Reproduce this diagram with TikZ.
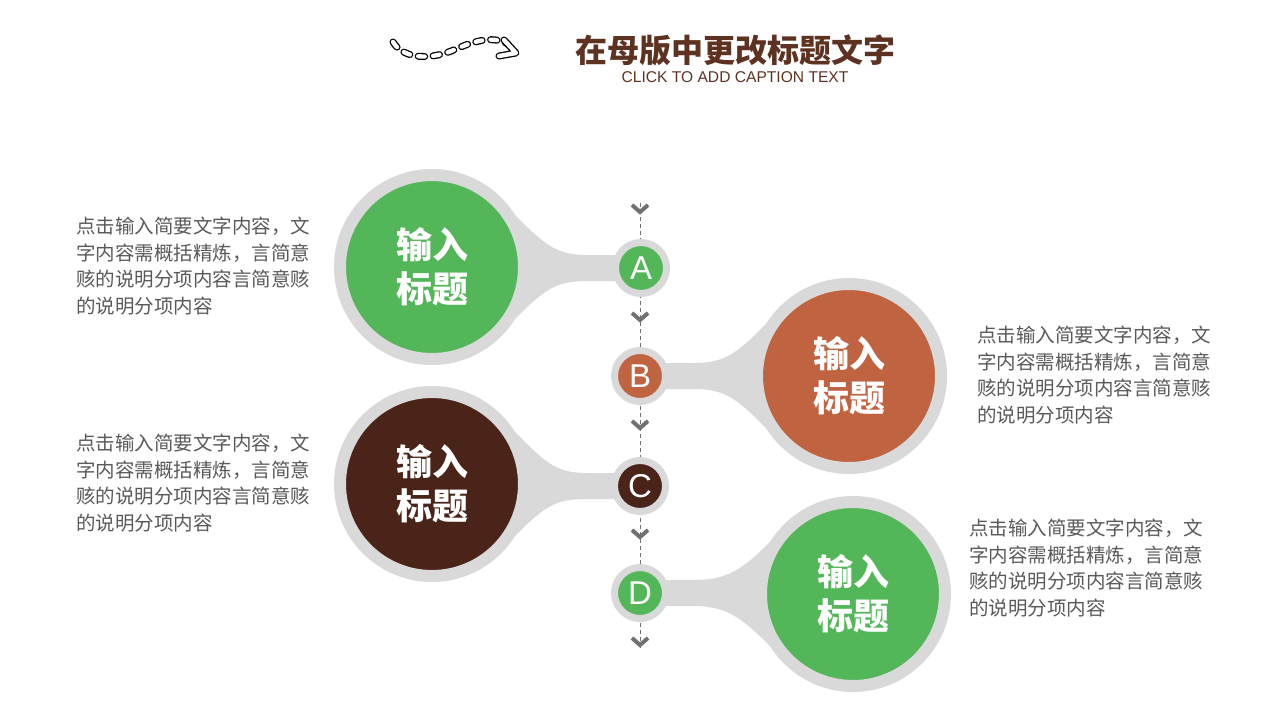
\documentclass[tikz,border=0pt]{standalone}
\usepackage{fontspec}
\setmainfont{Liberation Sans}
\newfontfamily\cjk{Noto Sans CJK SC}
\usetikzlibrary{backgrounds,calc}

\definecolor{ringgray}{HTML}{D9D9D9}
\definecolor{leafgreen}{HTML}{53B658}
\definecolor{rustorange}{HTML}{C06340}
\definecolor{darkbrown}{HTML}{4A2418}
\definecolor{titlebrown}{HTML}{5E3221}
\definecolor{notegray}{HTML}{595959}
\definecolor{arrowgray}{HTML}{707070}

\tikzset{
  bigdot/.style={circle, draw=ringgray, line width=12pt, minimum size=184pt, inner sep=0pt,
    text=white, align=center, font=\cjk\bfseries\fontsize{36}{44}\selectfont},
  smalldot/.style={circle, draw=ringgray, line width=7pt, minimum size=51pt, inner sep=0pt,
    text=white, font=\fontsize{33}{33}\selectfont},
  note/.style={anchor=west, align=left, inner sep=0pt, text=notegray, font=\cjk\fontsize{19.5}{26.5}\selectfont},
  neck/.style={fill=ringgray},
  chevron/.style={draw=arrowgray, line width=4pt},
  pill/.style={draw=black, double=white, double distance=4.4pt, line width=1.3pt}
}

\begin{document}
\begin{tikzpicture}[x=1pt, y=-1pt]
  \useasboundingbox (0,0) rectangle (1280,720);

  % title
  \node[font=\cjk\bfseries\fontsize{32}{32}\selectfont, text=titlebrown] (title) at (735,50) {在母版中更改标题文字};
  \node[font=\fontsize{15.6}{15.6}\selectfont, text=titlebrown] (caption) at (735,77) {CLICK TO ADD CAPTION TEXT};
  \draw[pill, dash pattern=on 6.5pt off 8.5pt, line cap=round]
    (393,42) .. controls (404,60) and (432,60) .. (456,49) .. controls (476,40) and (494,36) .. (508,44);
  \draw[pill, line cap=round, line join=round] (504,40) -- (516,53) -- (499,56);

  % big circles
  \node[bigdot, fill=leafgreen] (big1) at (432,267) {输入\\标题};
  \node[bigdot, fill=rustorange] (big2) at (849,376) {输入\\标题};
  \node[bigdot, fill=darkbrown] (big3) at (432,484) {输入\\标题};
  \node[bigdot, fill=leafgreen] (big4) at (853,594) {输入\\标题};

  % small circles
  \node[smalldot, fill=leafgreen] (dotA) at (641,268) {A};
  \node[smalldot, fill=rustorange] (dotB) at (640,376) {B};
  \node[smalldot, fill=darkbrown] (dotC) at (640,486) {C};
  \node[smalldot, fill=leafgreen] (dotD) at (640,593) {D};

  \begin{scope}[on background layer]
    \coordinate (top) at (640,203);
    \coordinate (bottom) at (640,648);
    \draw[arrowgray, line width=0.8pt, dash pattern=on 4pt off 3pt] (top) -- (bottom);
    % necks
    \fill[neck] (big1.32) .. controls +(30,30) and +(-32,0) .. ($(dotA)+(-53,-13)$) -- ($(dotA)+(-10,-13)$)
      -- ($(dotA)+(-10,13)$) -- ($(dotA)+(-53,13)$) .. controls +(-32,0) and +(30,-30) .. (big1.-32) -- cycle;
    \fill[neck] (big3.32) .. controls +(30,30) and +(-32,0) .. ($(dotC)+(-53,-13)$) -- ($(dotC)+(-10,-13)$)
      -- ($(dotC)+(-10,13)$) -- ($(dotC)+(-53,13)$) .. controls +(-32,0) and +(30,-30) .. (big3.-32) -- cycle;
    \fill[neck] (big2.148) .. controls +(-30,30) and +(32,0) .. ($(dotB)+(53,-13)$) -- ($(dotB)+(10,-13)$)
      -- ($(dotB)+(10,13)$) -- ($(dotB)+(53,13)$) .. controls +(32,0) and +(-30,-30) .. (big2.212) -- cycle;
    \fill[neck] (big4.148) .. controls +(-30,30) and +(32,0) .. ($(dotD)+(53,-13)$) -- ($(dotD)+(10,-13)$)
      -- ($(dotD)+(10,13)$) -- ($(dotD)+(53,13)$) .. controls +(32,0) and +(-30,-30) .. (big4.212) -- cycle;
  \end{scope}

  \foreach \y in {210,318,426,535,643}
    \draw[chevron] (632,\y-5) -- (640,\y+2) -- (648,\y-5);

  % notes
  \node[note] (note1) at (76,266) {点击输入简要文字内容，文\\字内容需概括精炼，言简意\\赅的说明分项内容言简意赅\\的说明分项内容};
  \node[note] (note2) at (977,375) {点击输入简要文字内容，文\\字内容需概括精炼，言简意\\赅的说明分项内容言简意赅\\的说明分项内容};
  \node[note] (note3) at (76,483) {点击输入简要文字内容，文\\字内容需概括精炼，言简意\\赅的说明分项内容言简意赅\\的说明分项内容};
  \node[note] (note4) at (969,568) {点击输入简要文字内容，文\\字内容需概括精炼，言简意\\赅的说明分项内容言简意赅\\的说明分项内容};
\end{tikzpicture}
\end{document}
